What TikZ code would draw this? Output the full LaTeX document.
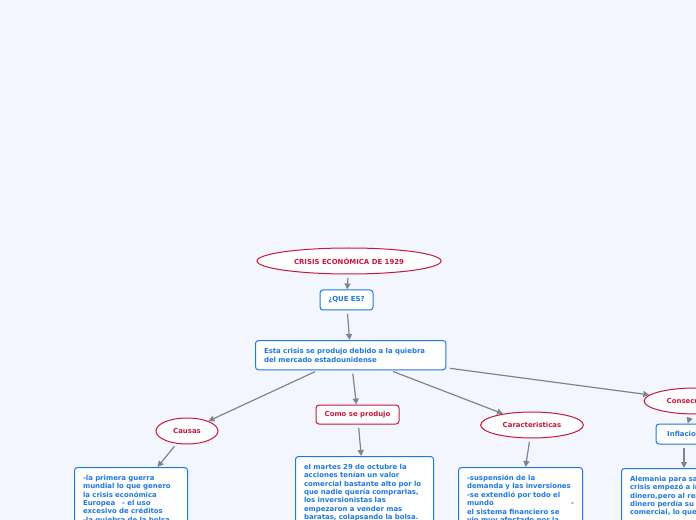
\documentclass[tikz,border=0pt]{standalone}
\usepackage{fontspec}
\setmainfont{DejaVu Sans}
\usetikzlibrary{shapes.geometric, arrows.meta}
\definecolor{mapRed}{RGB}{200,24,60}
\definecolor{mapBlue}{RGB}{30,120,225}
\definecolor{mapGray}{RGB}{130,132,140}
\definecolor{mapBack}{RGB}{243,246,255}
\tikzstyle{arrow} = [-{Triangle[length=4.5pt,width=4.5pt]}, line width=0.9pt, draw=mapGray, shorten <=2.5pt]

\begin{document}
\begin{tikzpicture}[
  x=0.75pt, y=-0.75pt,
  every node/.style={font=\fontsize{5.2}{6.3}\selectfont\bfseries},
  topic/.style={ellipse, draw=mapRed, fill=white, text=mapRed, line width=0.75pt, minimum height=19.5pt, inner sep=0pt},
  tagbox/.style={rectangle, rounded corners=2.25pt, draw=mapBlue, fill=white, text=mapBlue, line width=0.75pt, minimum height=15pt, inner sep=0pt},
  redtag/.style={tagbox, draw=mapRed, text=mapRed},
  textbox/.style={rectangle, rounded corners=2.25pt, draw=mapBlue, fill=white, text=mapBlue, line width=0.75pt, align=left, anchor=north west, inner xsep=6.4pt, inner ysep=5.6pt}
]

% Canvas
\useasboundingbox (0,0) rectangle (696,520);
\fill[mapBack] (0,0) rectangle (696,520);
\clip (0,0) rectangle (696,520);

% Central topic
\node[topic, minimum width=138pt] (crisis) at (349,261) {CRISIS ECONÓMICA DE 1929};
\node[tagbox, minimum width=39.75pt] (queEs) at (346.5,300) {¿QUE ES?};
\node[textbox, text width=130pt, font=\fontsize{5.2}{6.75}\selectfont\bfseries] (esta) at (255,340) {Esta crisis se produjo debido a la quiebra\\ del mercado estadounidense};

% Branches
\node[topic, minimum width=46.5pt] (causas) at (187,431) {Causas};
\node[redtag, minimum width=62.25pt, minimum height=14.25pt] (como) at (357.5,414.5) {Como se produjo};
\node[topic, minimum width=77pt] (caract) at (532,425) {Caracteristicas};
\node[topic, minimum width=77pt] (consec) at (695.5,401) {Consecuencias};
\node[tagbox, minimum width=42pt] (inflacion) at (684,434) {Inflacion};

% Detail boxes
\node[textbox, text width=72pt] (causasBox) at (74,467) {-la primera guerra\\ mundial lo que genero\\ la crisis económica\\ Europea\ \ \ - el uso\\ excesivo de créditos\\ -la quiebra de la bolsa};
\node[textbox, text width=90.75pt] (comoBox) at (295,456) {el martes 29 de octubre la\\ acciones tenían un valor\\ comercial bastante alto por lo\\ que nadie quería comprarlas,\\ los inversionistas las\\ empezaron a vender mas\\ baratas, colapsando la bolsa.};
\node[textbox, text width=80.25pt] (caractBox) at (458,467) {-suspensión de la\\ demanda y las inversiones\\ -se extendió por todo el\\ mundo\hfill -\\ el sistema financiero se\\ vio muy afectado por la};
\node[textbox, text width=90pt] (consecBox) at (621,468) {Alemania para salir de la\\ crisis empezó a imprimir\\ dinero,pero al realizarlo el\\ dinero perdía su valor\\ comercial, lo que\\ \strut};

% Connectors
\draw[arrow] (crisis) -- (queEs);
\draw[arrow] (queEs) -- (esta);
\draw[arrow] (esta) -- (causas);
\draw[arrow] (esta) -- (como);
\draw[arrow] (esta) -- (caract);
\draw[arrow] (esta) -- (consec);
\draw[arrow] (causas) -- (causasBox);
\draw[arrow] (como) -- (comoBox);
\draw[arrow] (caract) -- (caractBox);
\draw[arrow] (consec) -- (inflacion);
\draw[arrow] (inflacion) -- (inflacion.south |- consecBox.north);

\end{tikzpicture}
\end{document}
